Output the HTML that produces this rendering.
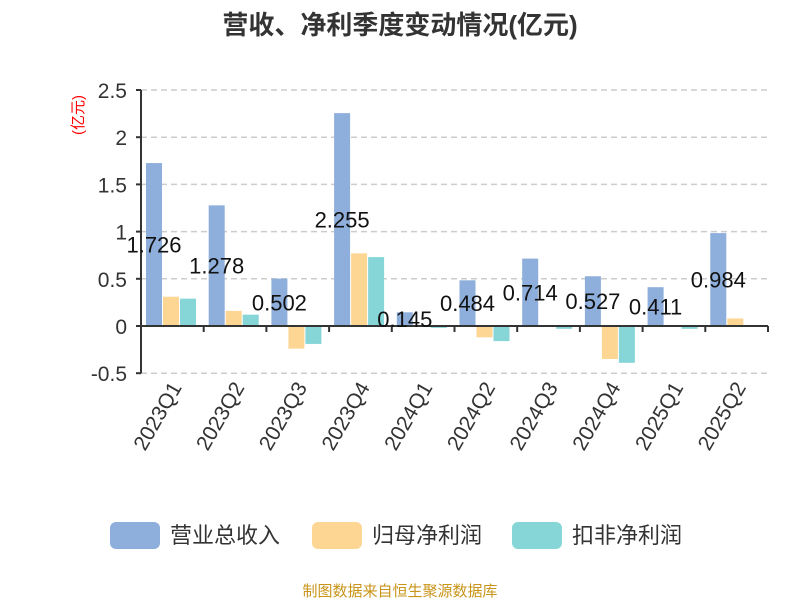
<!DOCTYPE html>
<html><head><meta charset="utf-8"><style>
body{margin:0;background:#fff;}
svg text{font-family:"Liberation Sans","Noto Sans CJK SC",sans-serif;}
</style></head><body>
<svg id="chart" width="800" height="600" xmlns="http://www.w3.org/2000/svg">
<text x="400" y="34" text-anchor="middle" font-size="26" font-weight="bold" fill="#333">营收、净利季度变动情况(亿元)</text>
<text transform="translate(83,115) rotate(-90)" text-anchor="middle" font-size="15" fill="#f00">(亿元)</text>
<g id="grid"></g><g id="bars"></g><g id="axes"></g><g id="labels"></g>
<g>
<g><rect x="110" y="522" width="50" height="27" rx="6" fill="#8eaedb"/><text x="170" y="543" font-size="22" fill="#333">营业总收入</text></g>
<g><rect x="312" y="522" width="50" height="27" rx="6" fill="#fed694"/><text x="372" y="543" font-size="22" fill="#333">归母净利润</text></g>
<g><rect x="512" y="522" width="50" height="27" rx="6" fill="#86d6d7"/><text x="572" y="543" font-size="22" fill="#333">扣非净利润</text></g>
</g>
<text x="400" y="596" text-anchor="middle" font-size="15" fill="#c8941a">制图数据来自恒生聚源数据库</text>
</svg>
<script>
const categories=["2023Q1","2023Q2","2023Q3","2023Q4","2024Q1","2024Q2","2024Q3","2024Q4","2025Q1","2025Q2"];
const revenue=[1.726,1.278,0.502,2.255,0.145,0.484,0.714,0.527,0.411,0.984];
const netProfit=[0.31,0.16,-0.24,0.77,0.01,-0.12,0.005,-0.35,0.005,0.08];
const deductedProfit=[0.29,0.12,-0.19,0.73,-0.02,-0.16,-0.03,-0.39,-0.03,-0.005];
const yTicks=[-0.5,0,0.5,1,1.5,2,2.5];
const NS="http://www.w3.org/2000/svg";
const x0=141,x1=768,yZero=326,pxPerUnit=94.4;
const bw=(x1-x0)/categories.length;
function y(v){return yZero-v*pxPerUnit;}
function mk(parent,tag,attrs,text){const e=document.createElementNS(NS,tag);for(const k in attrs)e.setAttribute(k,attrs[k]);if(text!==undefined)e.textContent=text;document.getElementById(parent).appendChild(e);return e;}
yTicks.forEach(t=>{
  if(t!==0){const g=mk('grid','line',{x1:x0,x2:x1,y1:y(t),y2:y(t),stroke:'#ccc','stroke-dasharray':'6,4','stroke-width':1.5});
  
  }
  const tk=mk('axes','line',{x1:x0-5,x2:x0,y1:y(t),y2:y(t),stroke:'#333','stroke-width':2});
  
  
  const lb=mk('axes','text',{x:x0-14,y:y(t)+8,'text-anchor':'end','font-size':21,fill:'#333'},String(t));
  
  
});
const ya=mk('axes','line',{x1:x0,x2:x0,y1:y(2.5),y2:y(-0.5),stroke:'#333','stroke-width':2});


const xa=mk('axes','line',{x1:x0,x2:x1,y1:yZero,y2:yZero,stroke:'#333','stroke-width':2});


const series=[[revenue,'#8eaedb','revenue'],[netProfit,'#fed694','net-profit'],[deductedProfit,'#86d6d7','deducted-profit']];
categories.forEach((c,i)=>{
  const gx=x0+i*bw;
  series.forEach((s,j)=>{
    const v=s[0][i];const bx=gx+5+j*17;
    const r=mk('bars','rect',{x:bx,y:Math.min(y(v),yZero),width:16,height:Math.max(Math.abs(y(v)-yZero),0.8),fill:s[1]});
    
    
  });
  const tk=mk('axes','line',{x1:gx+bw,x2:gx+bw,y1:yZero,y2:yZero+6,stroke:'#333','stroke-width':2});
  
  
  const cx=gx+bw/2;
  const lb=mk('axes','text',{transform:`translate(${cx+10},${y(-0.5)+14}) rotate(-60)`,'text-anchor':'end','font-size':21,fill:'#333'},c);
  
  
  const v=revenue[i];
  const vl=mk('labels','text',{x:gx+13,y:y(v/2)+8,'text-anchor':'middle','font-size':22,fill:'#111'},String(v));
  
  
});
</script>
</body></html>
